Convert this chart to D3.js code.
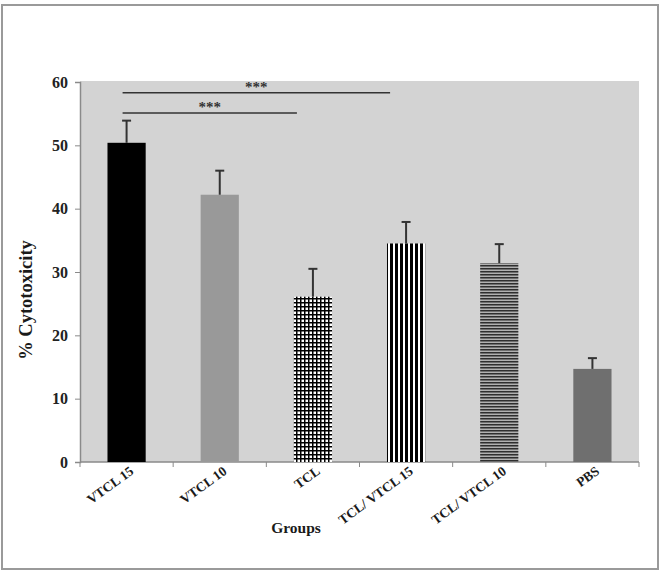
<!DOCTYPE html>
<meta charset="utf-8">
<style>
body { margin: 0; background: #fff; font-family: 'Liberation Serif', 'Times New Roman', serif; }
.tick text { font-weight: bold; fill: #222; }
.axis path, .axis line { stroke: #8a8a8a; }
</style>
<body>
<svg width="661" height="572"></svg>
<script src="https://d3js.org/d3.v7.min.js"></script>
<script>

// data
var groups = ["VTCL 15", "VTCL 10", "TCL", "TCL/ VTCL 15", "TCL/ VTCL 10", "PBS"];
var means  = [50.4, 42.2, 26.1, 34.5, 31.4, 14.7];
var errors = [3.5, 3.8, 4.4, 3.4, 3.0, 1.7];
var fills  = ["#000", "#999", "url(#grid)", "url(#vstripe)", "url(#hstripe)", "#6f6f6f"];
var yTicks = [0, 10, 20, 30, 40, 50, 60];

// significance brackets
var sigFrom  = ["VTCL 15", "VTCL 15"];
var sigTo    = ["TCL", "TCL/ VTCL 15"];
var sigLevel = [55.1, 58.3];
var sigText  = ["***", "***"];

var svg = d3.select("svg");

// outer frame
svg.append("rect")
  .attr("x", 2).attr("y", 5).attr("width", 656).attr("height", 564)
  .attr("fill", "none").attr("stroke", "#9a9a9a").attr("stroke-width", 2);

var defs = svg.append("defs");

var g1 = defs.append("pattern").attr("id", "grid")
  .attr("patternUnits", "userSpaceOnUse").attr("width", 4).attr("height", 4);
g1.append("rect").attr("width", 4).attr("height", 4).attr("fill", "#fff");
g1.append("rect").attr("width", 1.5).attr("height", 4).attr("fill", "#000");
g1.append("rect").attr("width", 4).attr("height", 1.5).attr("fill", "#000");

var g2 = defs.append("pattern").attr("id", "vstripe")
  .attr("patternUnits", "userSpaceOnUse").attr("width", 5).attr("height", 5);
g2.append("rect").attr("width", 5).attr("height", 5).attr("fill", "#fff");
g2.append("rect").attr("width", 3).attr("height", 5).attr("fill", "#000");

var g3 = defs.append("pattern").attr("id", "hstripe")
  .attr("patternUnits", "userSpaceOnUse").attr("width", 6).attr("height", 3);
g3.append("rect").attr("width", 6).attr("height", 3).attr("fill", "#6e6e6e");
g3.append("rect").attr("width", 6).attr("height", 1).attr("fill", "#2e2e2e");
g3.append("rect").attr("y", 2).attr("width", 6).attr("height", 1).attr("fill", "#b0b0b0");

var margin = {left: 80, top: 82, right: 22, bottom: 110};
var width = 661 - margin.left - margin.right,
    height = 572 - margin.top - margin.bottom;

var chart = svg.append("g")
  .attr("transform", "translate(" + margin.left + "," + margin.top + ")");

var x = d3.scaleBand().domain(groups).range([0, width]).paddingInner(0.59).paddingOuter(0.295);
var y = d3.scaleLinear().domain([0, 60]).range([height, 0]);

chart.append("rect")
  .attr("x", 0).attr("y", -1).attr("width", width).attr("height", height + 1)
  .attr("fill", "#d3d3d3");

// x axis with ticks at band edges
var xAxis = chart.append("g").attr("class", "axis")
  .attr("transform", "translate(0," + height + ")");
xAxis.append("line").attr("x1", 0).attr("x2", width).attr("stroke-width", 1.5);
var edges = groups.map(function(d) { return x(d) - x.step() * x.paddingInner() / 2; });
edges.push(width);
xAxis.selectAll(".xt").data(edges).enter().append("line")
  .attr("class", "xt")
  .attr("x1", function(d) { return d; }).attr("x2", function(d) { return d; })
  .attr("y1", 0).attr("y2", 5);
xAxis.selectAll(".xl").data(groups).enter().append("text")
  .attr("class", "xl")
  .attr("transform", function(d) {
    return "translate(" + (x(d) + x.bandwidth() / 2 + 8) + ",11) rotate(-36)";
  })
  .attr("text-anchor", "end")
  .attr("font-size", 13.5).attr("font-weight", "bold").attr("fill", "#1a1a1a")
  .text(function(d) { return d; });

// y axis
var yAxis = chart.append("g").attr("class", "axis")
  .call(d3.axisLeft(y).tickValues(yTicks).tickSize(5).tickPadding(7).tickFormat(d3.format("d")));
yAxis.select(".domain").attr("stroke-width", 1.5);
yAxis.selectAll(".tick text").attr("font-size", 16).attr("font-family", "'Liberation Serif', serif");

// bars
chart.selectAll(".bar").data(groups).enter().append("rect")
  .attr("class", "bar")
  .attr("x", function(d) { return x(d); })
  .attr("width", x.bandwidth())
  .attr("y", function(d, i) { return y(means[i]); })
  .attr("height", function(d, i) { return height - y(means[i]); })
  .attr("fill", function(d, i) { return fills[i]; });

// upper error bars
var eb = chart.selectAll(".err").data(groups).enter().append("g").attr("class", "err")
  .attr("stroke", "#333").attr("stroke-width", 2);
eb.append("line")
  .attr("x1", function(d) { return x(d) + x.bandwidth() / 2; })
  .attr("x2", function(d) { return x(d) + x.bandwidth() / 2; })
  .attr("y1", function(d, i) { return y(means[i]); })
  .attr("y2", function(d, i) { return y(means[i] + errors[i]); });
eb.append("line")
  .attr("x1", function(d) { return x(d) + x.bandwidth() / 2 - 4.5; })
  .attr("x2", function(d) { return x(d) + x.bandwidth() / 2 + 4.5; })
  .attr("y1", function(d, i) { return y(means[i] + errors[i]); })
  .attr("y2", function(d, i) { return y(means[i] + errors[i]); });

// significance lines
sigLevel.forEach(function(v, i) {
  var x1 = x(sigFrom[i]) + x.bandwidth() / 2 - 4;
  var x2 = x(sigTo[i]) + x.bandwidth() / 2 - 16;
  chart.append("line")
    .attr("x1", x1).attr("x2", x2).attr("y1", y(v)).attr("y2", y(v))
    .attr("stroke", "#333").attr("stroke-width", 1.5);
  chart.append("text")
    .attr("x", (x1 + x2) / 2).attr("y", y(v) - 1)
    .attr("text-anchor", "middle")
    .attr("font-size", 15).attr("font-weight", "bold").attr("fill", "#333")
    .text(sigText[i]);
});

// axis titles
svg.append("text")
  .attr("transform", "translate(32,300) rotate(-90)")
  .attr("text-anchor", "middle")
  .attr("font-size", 18.5).attr("font-weight", "bold").attr("fill", "#1a1a1a")
  .text("% Cytotoxicity");

svg.append("text")
  .attr("x", 296).attr("y", 533)
  .attr("text-anchor", "middle")
  .attr("font-size", 15.5).attr("font-weight", "bold").attr("fill", "#1a1a1a")
  .text("Groups");

</script>
</body>
